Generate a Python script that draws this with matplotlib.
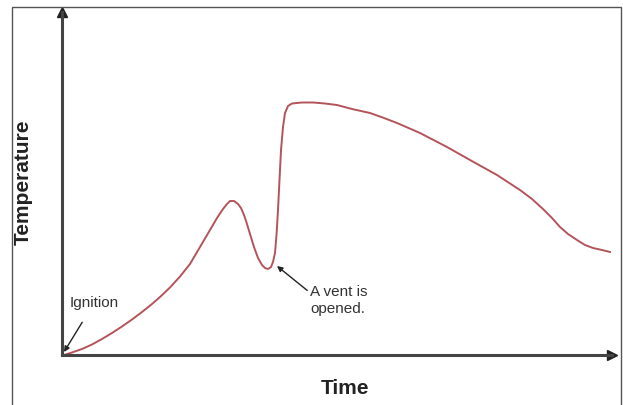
import matplotlib.pyplot as plt
from matplotlib.patches import Rectangle

W, H = 623, 405

# curve (time, temperature in arbitrary units)
time = [2, 10, 20, 30, 40, 50, 60, 70, 80, 90, 98, 108, 118, 128, 138, 148, 155,
        161, 165, 168, 172, 176, 179, 182, 185, 188, 192, 196, 200, 203, 206, 209,
        211, 213, 214.5, 216, 217.5, 219, 221, 223, 226, 230, 240, 251, 263, 275,
        290, 308, 322, 335, 358, 385, 408, 435, 458, 470, 481, 490, 498, 506, 515,
        523, 531, 540, 548]
temperature = [0, 2.5, 6, 10.5, 16, 22, 28.5, 35.5, 43, 51, 58, 67.5, 78.5, 91, 108,
               125, 137, 146, 151, 154, 154, 151, 147, 140, 131, 121, 108, 97, 90,
               87, 86, 88, 93, 102, 120, 145, 175, 205, 228, 242, 249, 251.5, 252.5,
               252.5, 251.5, 250, 246, 242, 237, 232, 222, 208, 195, 180, 165, 156,
               146, 137, 128, 121, 115, 110, 107, 105, 103]

x_label = "Time"
y_label = "Temperature"
notes = ["Ignition", "A vent is\nopened."]

plt.rcParams['font.family'] = ['Liberation Sans', 'DejaVu Sans']

fig = plt.figure(figsize=(W / 100, H / 100), dpi=100)
fig.patches.append(Rectangle((12 / W, -0.1), (621 - 12) / W, 1.1 - 7 / H,
                             transform=fig.transFigure, fill=False,
                             edgecolor='#555555', linewidth=1))

ax = fig.add_axes([62 / W, (H - 355) / H, 550 / W, 343 / H])
ax.set_xlim(0, 550)
ax.set_ylim(0, 343)
for s in ['top', 'right']:
    ax.spines[s].set_visible(False)
for s in ['left', 'bottom']:
    ax.spines[s].set_color('#444444')
    ax.spines[s].set_linewidth(2.2)
ax.set_xticks([])
ax.set_yticks([])
ax.patch.set_alpha(0)

# arrow heads on the axes
ax.plot(1, 0, '>', color='#222222', markersize=7, transform=ax.transAxes, clip_on=False)
ax.plot(0, 1, '^', color='#222222', markersize=7, transform=ax.transAxes, clip_on=False)

ax.plot(time, temperature, color='#b4545a', linewidth=1.4, solid_joinstyle='round')

ax.annotate(notes[0], xy=(2, 3), xytext=(32, 52), ha='center', va='center',
            fontsize=11, color='#333333',
            arrowprops=dict(arrowstyle='-|>', color='#222222', lw=1, shrinkA=8, shrinkB=0,
                            mutation_scale=8))
ax.annotate(notes[1], xy=(215, 89), xytext=(248, 70), ha='left', va='top',
            fontsize=11, color='#333333', linespacing=1.25,
            arrowprops=dict(arrowstyle='-|>', color='#222222', lw=1, shrinkA=0, shrinkB=0,
                            mutation_scale=8, relpos=(0, 0.75)))

fig.text(345 / W, 1 - 388 / H, x_label, ha='center', va='center',
         fontsize=15, fontweight='bold', color='#222222')
fig.text(23 / W, 1 - 182 / H, y_label, ha='center', va='center', rotation=90,
         fontsize=15, fontweight='bold', color='#222222')

fig.savefig('out.png', dpi=100)
